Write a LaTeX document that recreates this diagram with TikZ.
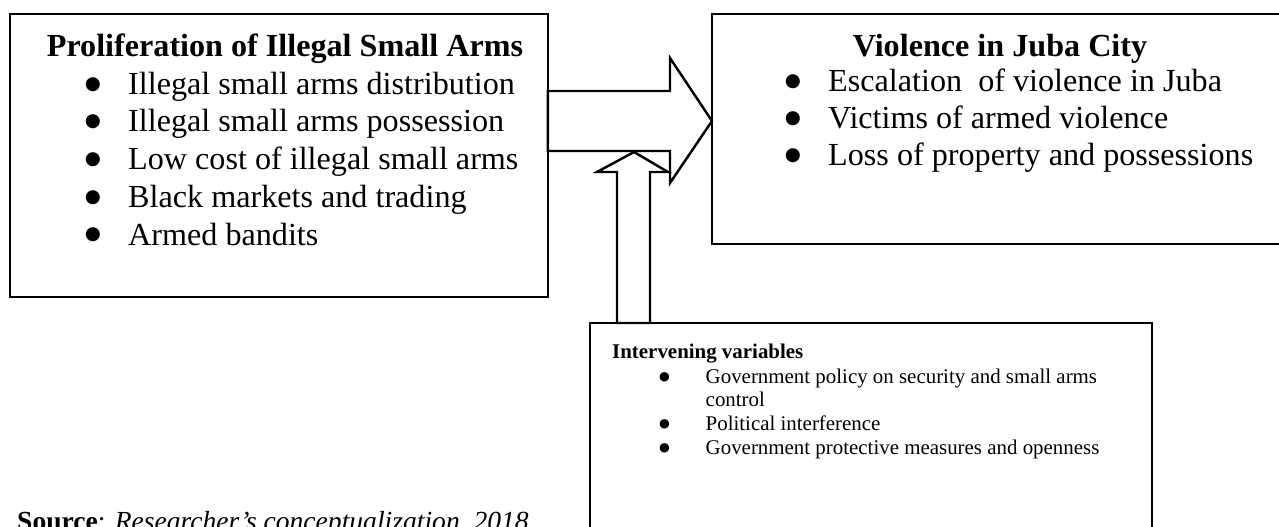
\documentclass[tikz,border=0pt]{standalone}
\usepackage{fontspec}
\setmainfont{Liberation Serif}
\newfontfamily\dotfont{DejaVu Sans}

\newcommand{\bigsize}{\fontsize{18.3}{21.3}\selectfont}
\newcommand{\smallsize}{\fontsize{11.9}{13.5}\selectfont}
\newcommand{\srcsize}{\fontsize{15.7}{18}\selectfont}

\begin{document}
\begin{tikzpicture}[x=0.02cm, y=-0.02cm, line width=1.4pt,
        box/.style={draw, rectangle, anchor=north west, inner sep=0pt, outer sep=0pt},
        blockarrow/.style={draw, fill=white, line join=miter},
        bigdot/.style={font=\dotfont\fontsize{10.5}{10.5}\selectfont, inner sep=0pt, anchor=base},
        smalldot/.style={font=\dotfont\fontsize{7}{7}\selectfont, inner sep=0pt, anchor=base}]
            \clip (0,0) rectangle (1279,527);

            % the three boxes
            \node[box, minimum width=10.76cm, minimum height=5.66cm] (prolif) at (10,14) {};
            \node[box, minimum width=11.76cm, minimum height=4.6cm] (violence) at (712,14) {};
            \node[box, minimum width=11.24cm, minimum height=4.74cm] (intervene) at (590,323) {};

            % block arrows
            \coordinate (htip) at (violence.west |- 0,121);
            \coordinate (vtip) at (634,152);
            \draw[blockarrow] (prolif.east |- 0,91) -- (670,91) -- (670,58) -- (htip)
                -- (670,183) -- (670,151) -- (prolif.east |- 0,151) -- cycle;
            \draw[blockarrow] (intervene.north -| 617,0) -- (617,172) -- (597,172) -- (vtip)
                -- (668,172) -- (650,172) -- (intervene.north -| 650,0) -- cycle;

            \begin{scope}[every node/.style={font=\bigsize, inner sep=0pt, anchor=base west}]

                \node[font=\bigsize\bfseries, anchor=base] (prolifhead) at (285,57) {Proliferation of Illegal Small Arms};
                \node (p1) at (127,95) {Illegal small arms distribution};
                \node (p2) at (127,132) {Illegal small arms possession};
                \node (p3) at (127,170) {Low cost of illegal small arms};
                \node (p4) at (127,208) {Black markets and trading};
                \node (p5) at (127,245) {Armed bandits};

                \node[font=\bigsize\bfseries, anchor=base] (violhead) at (1000,57) {Violence in Juba City};
                \node (v1) at (827,92) {Escalation\ \ of violence in Juba};
                \node (v2) at (827,129) {Victims of armed violence};
                \node (v3) at (827,166) {Loss of property and possessions};

            \end{scope}
            \begin{scope}[every node/.style={font=\smallsize, inner sep=0pt, anchor=base west}]

                \node[font=\smallsize\bfseries] (intervhead) at (611,358) {Intervening variables};
                \node (i1) at (704.5,383) {Government policy on security and small arms};
                \node (i1b) at (704.5,406) {control};
                \node (i2) at (704.5,430) {Political interference};
                \node (i3) at (704.5,454) {Government protective measures and openness};

            \end{scope}

            % bullets
            \foreach \n in {p1,p2,p3,p4,p5,v1,v2,v3}
                \path (\n.base west) ++(-34,-5.5) node[bigdot] (dot-\n) {●};
            \foreach \n in {i1,i2,i3}
                \path (\n.base west) ++(-40,-3) node[smalldot] (dot-\n) {●};

            \node[font=\srcsize, inner sep=0pt, anchor=base west] (source) at (16,530)
                {\textbf{Source}: \textit{Researcher's conceptualization, 2018}};

        \end{tikzpicture}
\end{document}
